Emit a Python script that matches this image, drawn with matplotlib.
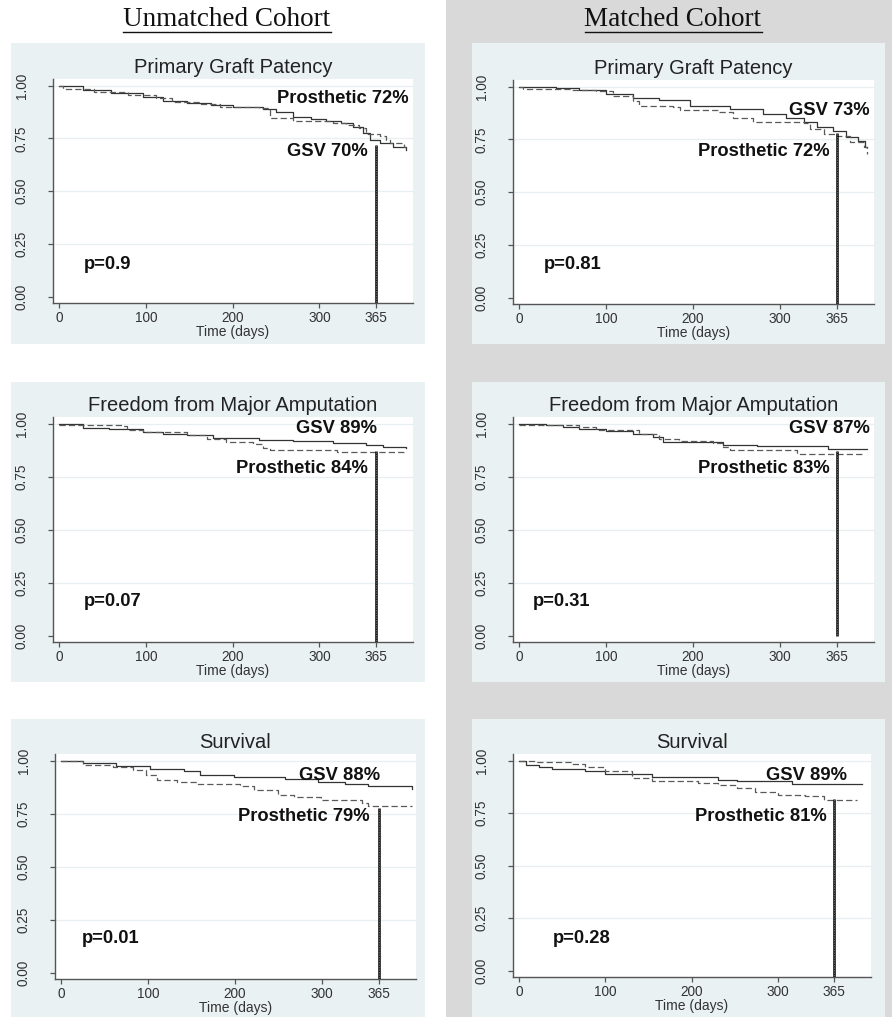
import matplotlib
matplotlib.use("Agg")
import matplotlib.pyplot as plt
from matplotlib.patches import Rectangle
from matplotlib.lines import Line2D

W, H = 892, 1017

# ---- data (Kaplan-Meier steps) ----
cohorts = ["Unmatched Cohort", "Matched Cohort"]
titles = ["Primary Graft Patency", "Freedom from Major Amputation", "Survival"]

# primary patency, unmatched
pat_unm_gsv_t = [0, 28, 60, 97, 120, 147, 175, 200, 235, 250, 270, 290, 308, 325, 339, 350, 358, 370, 385, 400]
pat_unm_gsv_s = [1.0, 0.98, 0.965, 0.948, 0.93, 0.916, 0.908, 0.90, 0.888, 0.875, 0.853, 0.843, 0.834, 0.822, 0.806, 0.774, 0.742, 0.727, 0.711, 0.695]
pat_unm_pro_t = [0, 5, 40, 80, 112, 130, 162, 185, 231, 243, 270, 316, 331, 346, 354, 370, 377, 381, 398, 400]
pat_unm_pro_s = [1.0, 0.985, 0.97, 0.955, 0.94, 0.925, 0.913, 0.90, 0.893, 0.845, 0.834, 0.825, 0.814, 0.798, 0.771, 0.761, 0.742, 0.727, 0.711, 0.711]
# primary patency, matched
pat_mat_gsv_t = [0, 20, 42, 69, 100, 131, 161, 196, 242, 280, 307, 327, 342, 361, 376, 390, 398, 400]
pat_mat_gsv_s = [1.0, 0.997, 0.994, 0.984, 0.965, 0.949, 0.937, 0.91, 0.894, 0.87, 0.854, 0.835, 0.807, 0.788, 0.763, 0.744, 0.712, 0.712]
pat_mat_pro_t = [0, 5, 61, 88, 108, 131, 138, 177, 185, 230, 246, 269, 327, 334, 350, 365, 380, 396, 400]
pat_mat_pro_s = [1.0, 0.989, 0.985, 0.98, 0.957, 0.934, 0.91, 0.905, 0.889, 0.878, 0.851, 0.831, 0.826, 0.799, 0.778, 0.767, 0.736, 0.712, 0.68]
# amputation, unmatched
amp_unm_gsv_t = [0, 28, 58, 97, 120, 147, 177, 231, 270, 316, 354, 373, 400]
amp_unm_gsv_s = [0.997, 0.98, 0.976, 0.96, 0.952, 0.945, 0.932, 0.924, 0.918, 0.909, 0.898, 0.89, 0.885]
amp_unm_pro_t = [0, 10, 74, 78, 97, 147, 170, 193, 224, 235, 243, 320, 400]
amp_unm_pro_s = [0.995, 0.992, 0.99, 0.972, 0.96, 0.945, 0.929, 0.913, 0.906, 0.888, 0.876, 0.866, 0.866]
# amputation, matched
amp_mat_gsv_t = [0, 31, 50, 69, 100, 131, 154, 165, 234, 273, 355, 400]
amp_mat_gsv_s = [0.997, 0.992, 0.987, 0.976, 0.965, 0.953, 0.937, 0.913, 0.902, 0.893, 0.882, 0.882]
amp_mat_pro_t = [0, 69, 88, 138, 161, 184, 223, 234, 242, 319, 398]
amp_mat_pro_s = [0.992, 0.984, 0.969, 0.953, 0.929, 0.921, 0.909, 0.89, 0.874, 0.858, 0.858]
# survival, unmatched
sur_unm_gsv_t = [0, 25, 63, 102, 141, 160, 199, 257, 295, 326, 353, 380, 403]
sur_unm_gsv_s = [1.0, 0.989, 0.976, 0.961, 0.95, 0.934, 0.923, 0.913, 0.902, 0.891, 0.882, 0.879, 0.869]
sur_unm_pro_t = [0, 25, 60, 83, 98, 110, 133, 156, 206, 222, 249, 268, 299, 346, 353, 403]
sur_unm_pro_s = [1.0, 0.981, 0.97, 0.957, 0.934, 0.91, 0.898, 0.891, 0.882, 0.863, 0.839, 0.83, 0.816, 0.803, 0.787, 0.787]
# survival, matched
sur_mat_gsv_t = [0, 8, 23, 38, 77, 100, 154, 231, 253, 317, 398]
sur_mat_gsv_s = [1.0, 0.981, 0.97, 0.96, 0.949, 0.937, 0.922, 0.91, 0.902, 0.89, 0.89]
sur_mat_pro_t = [0, 19, 61, 77, 100, 131, 154, 208, 231, 253, 273, 300, 331, 354, 392]
sur_mat_pro_s = [1.0, 0.995, 0.986, 0.97, 0.949, 0.917, 0.905, 0.895, 0.883, 0.87, 0.851, 0.838, 0.832, 0.814, 0.814]

gsv_labels = ["GSV 70%", "GSV 73%", "GSV 89%", "GSV 87%", "GSV 88%", "GSV 89%"]
pro_labels = ["Prosthetic 72%", "Prosthetic 72%", "Prosthetic 84%", "Prosthetic 83%", "Prosthetic 79%", "Prosthetic 81%"]
p_values = ["p=0.9", "p=0.81", "p=0.07", "p=0.31", "p=0.01", "p=0.28"]
vline_top = [0.72, 0.78, 0.873, 0.87, 0.778, 0.82]
vline_bottom = [-0.03, -0.03, -0.03, 0.0, -0.03, -0.03]

curves = [
    (pat_unm_gsv_t, pat_unm_gsv_s, pat_unm_pro_t, pat_unm_pro_s),
    (pat_mat_gsv_t, pat_mat_gsv_s, pat_mat_pro_t, pat_mat_pro_s),
    (amp_unm_gsv_t, amp_unm_gsv_s, amp_unm_pro_t, amp_unm_pro_s),
    (amp_mat_gsv_t, amp_mat_gsv_s, amp_mat_pro_t, amp_mat_pro_s),
    (sur_unm_gsv_t, sur_unm_gsv_s, sur_unm_pro_t, sur_unm_pro_s),
    (sur_mat_gsv_t, sur_mat_gsv_s, sur_mat_pro_t, sur_mat_pro_s),
]

# label positions (data coords): gsv, prosthetic, p-value
gsv_pos = [(356, 0.687), (403, 0.886), (367, 0.98), (403, 0.976), (367, 0.93), (380, 0.929)]
pro_pos = [(403, 0.938), (357, 0.693), (356, 0.788), (357, 0.788), (355, 0.736), (357, 0.733)]
p_pos = [(28, 0.152), (28, 0.155), (28, 0.16), (16, 0.16), (24, 0.16), (39, 0.152)]

# ---- layout (pixels, top-left origin) ----
ax_boxes = [(53, 79, 413, 303), (513, 80, 874, 304),
            (53, 417, 413, 642), (513, 417, 874, 642),
            (55, 754, 416, 979), (513, 754, 871, 977)]
panel_boxes = [(11, 43, 425, 344), (472, 43, 885, 344),
               (11, 382, 425, 682), (472, 382, 885, 682),
               (11, 719, 425, 1017), (472, 719, 885, 1017)]

plt.rcParams['font.family'] = ['Liberation Sans', 'DejaVu Sans']

fig = plt.figure(figsize=(W / 100, H / 100), dpi=100)
fig.patch.set_facecolor("white")


def fx(x):
    return x / W


def fy(y):
    return 1 - y / H


fig.patches.append(Rectangle((fx(446), 0), 1 - fx(446), 1, transform=fig.transFigure,
                             facecolor="#d9d9d9", edgecolor="none", zorder=-3))
for (x0, y0, x1, y1) in panel_boxes:
    fig.patches.append(Rectangle((fx(x0), fy(y1)), fx(x1) - fx(x0), fy(y0) - fy(y1),
                                 transform=fig.transFigure, facecolor="#e9f1f3",
                                 edgecolor="none", zorder=-2))

axis_col = "#555555"
for i, (x0, y0, x1, y1) in enumerate(ax_boxes):
    ax = fig.add_axes([fx(x0), fy(y1), fx(x1) - fx(x0), fy(y0) - fy(y1)])
    ax.set_facecolor("white")
    gt, gs, pt, ps = curves[i]
    ax.plot(gt, gs, drawstyle="steps-post", color="#333333", lw=0.9, zorder=3)
    ax.plot(pt, ps, drawstyle="steps-post", color="#5a5a5a", lw=0.9,
            dashes=(5, 2.5), zorder=3)
    ax.plot([365, 365], [vline_bottom[i], vline_top[i]], color="black", lw=1.8,
            solid_capstyle="butt", zorder=4)
    ax.plot([365, 365], [vline_bottom[i], vline_top[i]], color="#dddddd", lw=0.4,
            dashes=(1.5, 1.5), zorder=5)

    ax.set_xlim(-7, 408)
    ax.set_ylim(-0.03, 1.032)
    ax.set_xticks([0, 100, 200, 300, 365])
    ax.set_yticks([0, 0.25, 0.5, 0.75, 1.0])
    ax.set_yticklabels(["0.00", "0.25", "0.50", "0.75", "1.00"], rotation=90, va="center")
    for yv in [0.25, 0.5, 0.75, 1.0]:
        ax.axhline(yv, color="#e8eff2", lw=0.9, zorder=1)
    for s in ["top", "right"]:
        ax.spines[s].set_visible(False)
    for s in ["left", "bottom"]:
        ax.spines[s].set_color(axis_col)
        ax.spines[s].set_linewidth(1.0)
    ax.tick_params(axis="both", colors=axis_col, labelcolor="#333333",
                   labelsize=9.8, length=3.5, width=0.9)
    ax.tick_params(axis="y", pad=14)
    ax.tick_params(axis="x", pad=2)
    ax.set_xlabel("Time (days)", fontsize=10, color="#333333", labelpad=0)
    ax.set_title(titles[i // 2], fontsize=14.5, color="#222222", pad=4)

    ax.text(*gsv_pos[i], gsv_labels[i], ha="right", va="center",
            fontsize=13.2, fontweight="bold", color="#111111", zorder=6)
    ax.text(*pro_pos[i], pro_labels[i], ha="right", va="center",
            fontsize=13.2, fontweight="bold", color="#111111", zorder=6)
    ax.text(*p_pos[i], p_values[i], ha="left", va="center",
            fontsize=13.2, fontweight="bold", color="#111111", zorder=6)

# cohort headers (underlined serif)
header_x = [227, 673]
headers = []
for cx, label in zip(header_x, cohorts):
    t = fig.text(fx(cx), fy(19), label, ha="center", va="center",
                 fontsize=19.5, family=["Liberation Serif", "DejaVu Serif"], color="#111111")
    headers.append(t)

fig.canvas.draw()
r = fig.canvas.get_renderer()
for t in headers:
    bb = t.get_window_extent(renderer=r)
    yline = fy(32)
    fig.add_artist(Line2D([bb.x0 / W, bb.x1 / W], [yline, yline],
                          transform=fig.transFigure, color="#111111", lw=1.0))

fig.savefig("out.png", dpi=100)
